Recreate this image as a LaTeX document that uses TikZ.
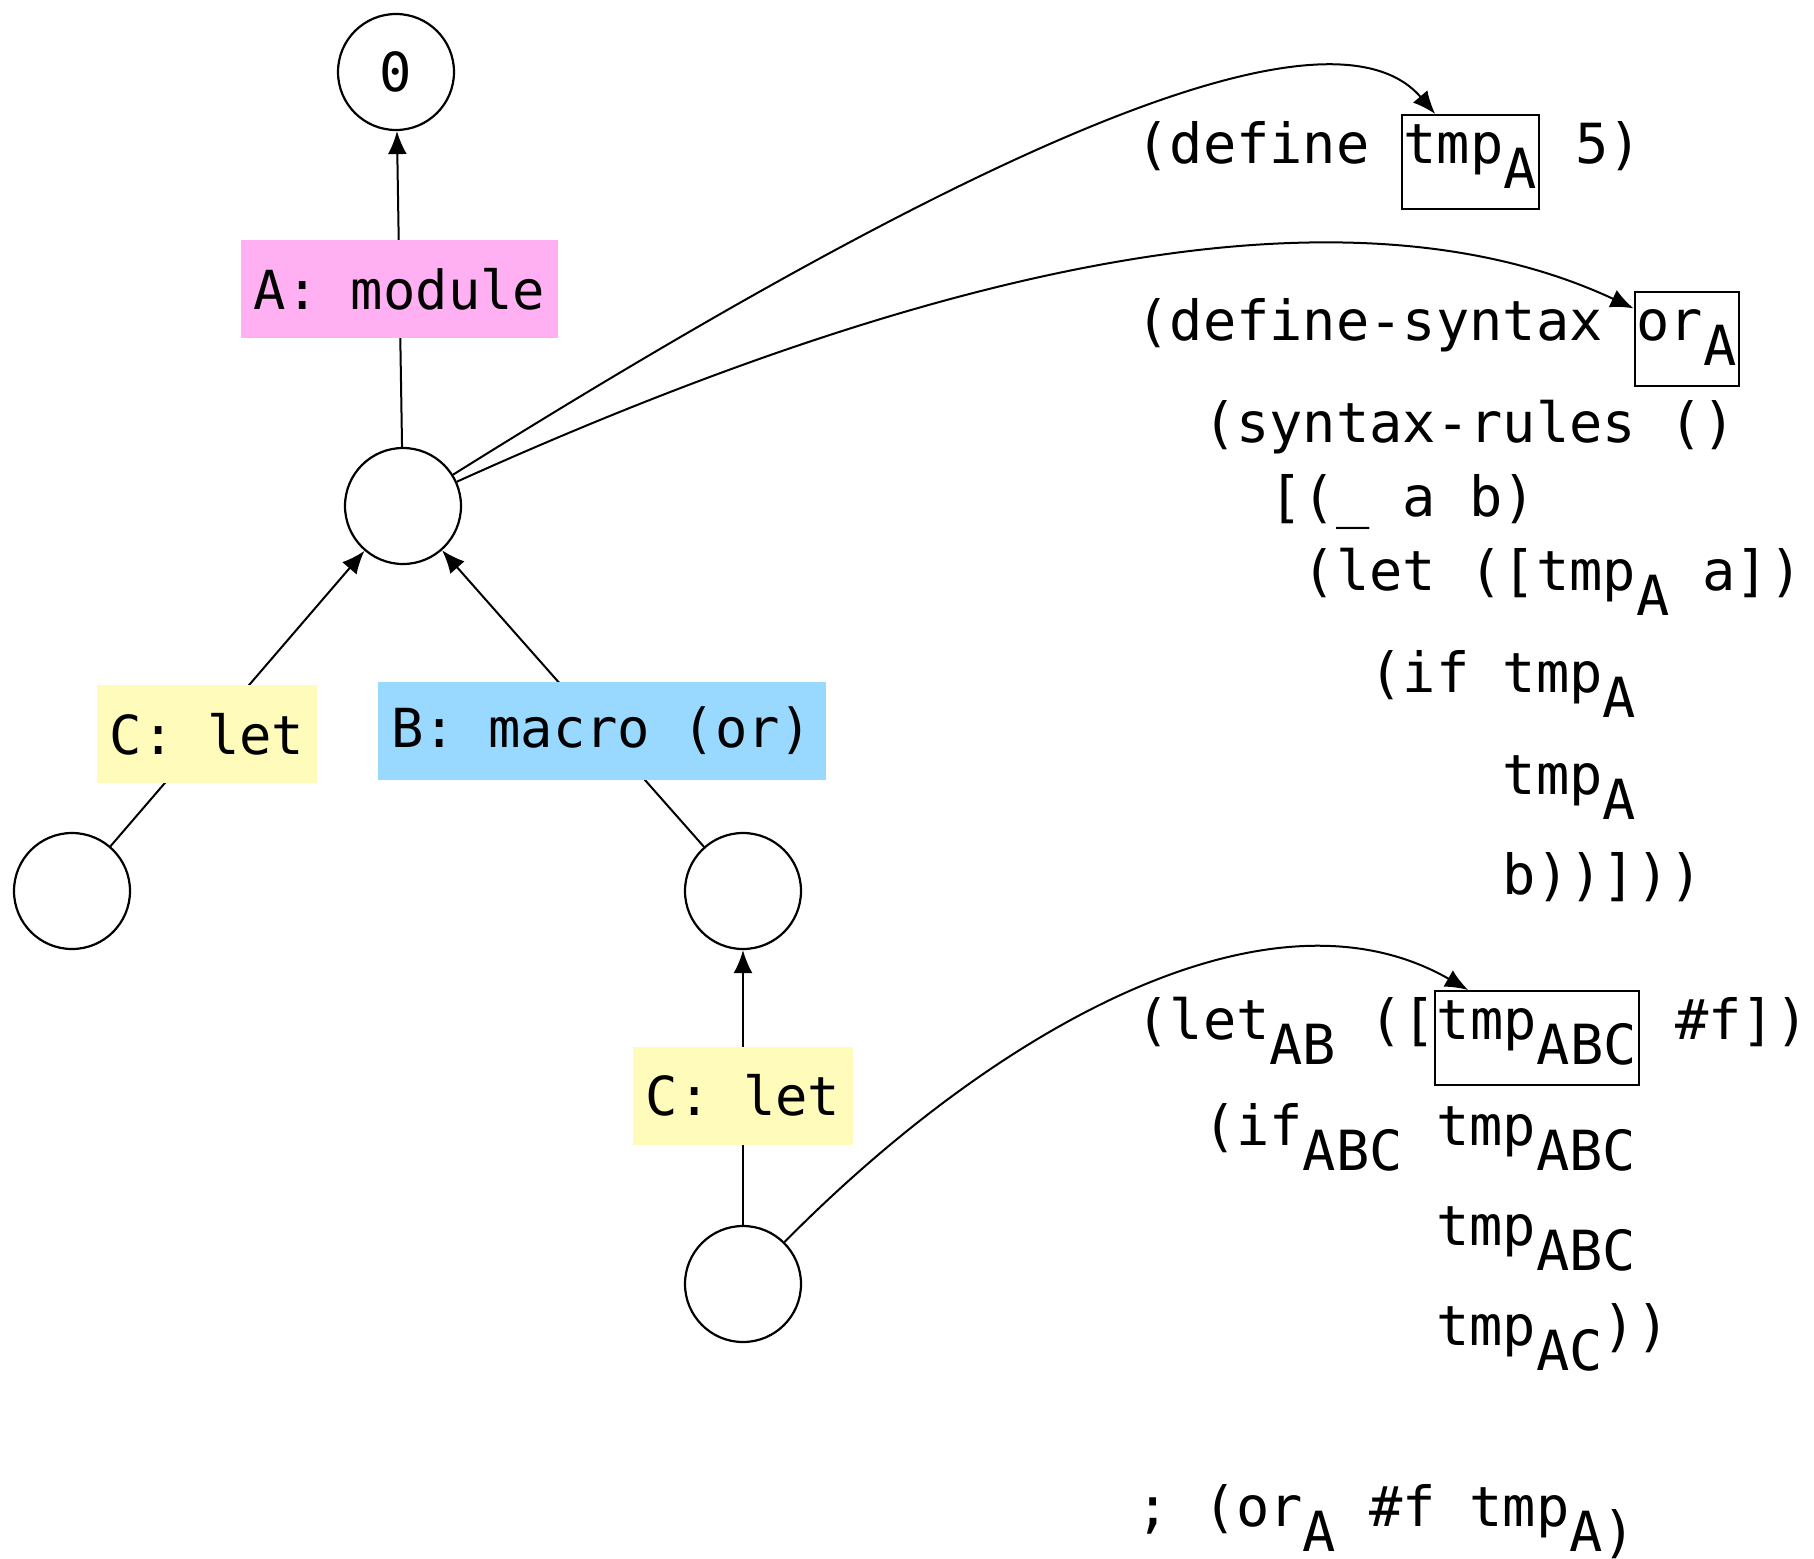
\documentclass[tikz,border=0pt]{standalone}
\usepackage{fontspec}
\newfontfamily\menlo{DejaVu Sans Mono}
\usetikzlibrary{arrows.meta}

\definecolor{modfill}{RGB}{255,176,243}
\definecolor{letfill}{RGB}{255,251,187}
\definecolor{macfill}{RGB}{153,217,255}

% lowered scope letters, same size as the code
\newcommand\lo[1]{\raisebox{-12.7pt}{#1}}
% x position of a column of the code
\newcommand\cx[1]{1136+33.31*#1}

\begin{document}
\begin{tikzpicture}[
        x=0.5pt, y=-0.5pt,
        scopenode/.style={draw, circle, minimum size=58pt, inner sep=0pt,
            line width=1.1pt, font=\menlo\fontsize{26.9}{32}\selectfont},
        lbl/.style={inner xsep=6.6pt, inner ysep=0pt, minimum height=49pt,
            font=\menlo\fontsize{26.9}{32}\selectfont},
        codeline/.style={anchor=base west, inner sep=0pt,
            font=\menlo\fontsize{27.66}{33}\selectfont},
        tok/.style={codeline, draw, inner xsep=1pt, inner ysep=0pt,
            text height=24pt, text depth=23pt, line width=1pt},
        link/.style={-{Latex[length=11.5pt, width=9.5pt]}, line width=1pt},
    ]
    \useasboundingbox (0,0) rectangle (1814,1558);

    % scope tree
    \node[scopenode] (s0) at (396,72) {0};
    \node[scopenode] (sA) at (403,506) {};
    \node[scopenode] (sAC) at (72,891) {};
    \node[scopenode] (sAB) at (743,891) {};
    \node[scopenode] (sABC) at (743,1284) {};

    \draw[link] (sA) -- node[lbl, fill=modfill, pos=0.5] (lblA) {A: module} (s0);
    \draw[link] (sAC) -- node[lbl, fill=letfill, pos=0.38] (lblC) {C: let} (sA);
    \draw[link] (sAB) -- node[lbl, fill=macfill, pos=0.39] (lblB) {B: macro (or)} (sA);
    \draw[link] (sABC) -- node[lbl, fill=letfill, pos=0.47] (lblC2) {C: let} (sAB);

    % program text
    \node[codeline] (def) at ({\cx{0}},163) {(define};
    \node[tok] (tmpA) at ({\cx{8}-2},163) {tmp\lo{A}\hspace{11.5pt}};
    \node[codeline] (five) at ({\cx{13}+6},163) {5)};
    \node[codeline] (defsyn) at ({\cx{0}},340) {(define-syntax};
    \node[tok] (orA) at ({\cx{15}-2},340) {or\lo{A}\hspace{11.5pt}};
    \node[codeline] (rules) at ({\cx{2}},442) {(syntax-rules ()};
    \node[codeline] (pat) at ({\cx{4}},516) {[(\_ a b)};
    \node[codeline] (letA) at ({\cx{5}},590) {(let ([tmp\lo{A} a])};
    \node[codeline] (ifA) at ({\cx{7}},692) {(if tmp\lo{A}};
    \node[codeline] (thenA) at ({\cx{11}},794) {tmp\lo{A}};
    \node[codeline] (elseA) at ({\cx{11}},894) {b))]))};
    \node[codeline] (letAB) at ({\cx{0}},1039) {(let\lo{AB} ([};
    \node[tok] (tmpABC) at ({\cx{9}-2},1039) {tmp\lo{ABC}\hspace{11.5pt}};
    \node[codeline] (falseAB) at ({\cx{16}+6},1039) {\#f])};
    \node[codeline] (ifABC) at ({\cx{2}},1145) {(if\lo{ABC} tmp\lo{ABC}};
    \node[codeline] (thenABC) at ({\cx{9}},1245) {tmp\lo{ABC}};
    \node[codeline] (elseAC) at ({\cx{9}},1345) {tmp\lo{AC}))};
    \node[codeline] (usage) at ({\cx{0}},1526) {; (or\lo{A} \#f tmp\lo{A)}};

    % binding arrows
    \draw[link] (sA) .. controls +(497,-311) and +(-116,-135) .. (tmpA.126);
    \draw[link] (sA) .. controls +(463,-209) and +(-317,-148) .. (orA.150);
    \draw[link] (sABC) .. controls +(252,-255) and +(-200,-115) .. (tmpABC.145);
\end{tikzpicture}
\end{document}
